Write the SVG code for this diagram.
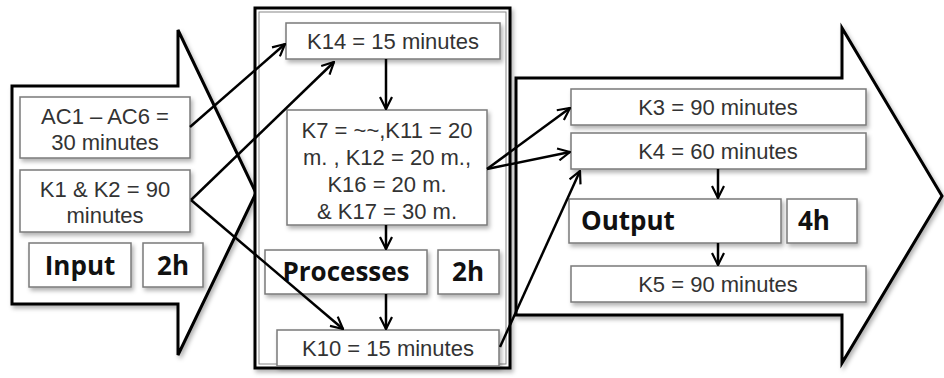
<svg xmlns="http://www.w3.org/2000/svg" width="944" height="378" viewBox="0 0 944 378">
<style>
.big{fill:#fff;stroke:#000;stroke-width:3;stroke-linejoin:miter}
.box{fill:#fff;stroke:#7a7a7a;stroke-width:1.5}
.t{font-family:"Liberation Sans",Arial,sans-serif;font-size:22px;fill:#333;text-anchor:middle}
.b{font-family:"Open Sans","Liberation Sans",sans-serif;font-size:26px;font-weight:bold;fill:#111;text-anchor:middle}
.c{fill:none;stroke:#000;stroke-width:2.5}
</style>
<defs>
<filter id="sh" x="-10%" y="-10%" width="130%" height="130%">
<feDropShadow dx="2" dy="3" stdDeviation="2" flood-color="#000" flood-opacity="0.3"/>
</filter>
<marker id="ar" viewBox="0 0 14 14" refX="13" refY="7" markerWidth="14" markerHeight="14" markerUnits="userSpaceOnUse" orient="auto">
<path d="M1,1 L13,7 L1,13" fill="none" stroke="#000" stroke-width="2.2"/>
</marker>
</defs>
<g id="input">
<polygon class="big" filter="url(#sh)" points="12,86 178,86 178,30 256,193 178,355 178,304 12,304"/>
</g>
<g id="output">
<polygon class="big" filter="url(#sh)" points="516,78 842,78 842,28 942,196 842,363 842,315 516,315"/>
</g>
<g id="processes">
<rect x="255" y="8" width="255" height="360" fill="#fff" stroke="#000" stroke-width="3" filter="url(#sh)"/>
<rect x="259" y="12" width="247" height="352" fill="none" stroke="#888" stroke-width="1"/>
</g>
<g id="ac1">
<rect class="box" filter="url(#sh)" x="20" y="97" width="170" height="61"/>
<text class="t" x="105" y="124">AC1 – AC6 =</text>
<text class="t" x="105" y="150">30 minutes</text>
</g>
<g id="k1k2">
<rect class="box" filter="url(#sh)" x="20" y="170" width="170" height="62"/>
<text class="t" x="105" y="197">K1 &amp; K2 = 90</text>
<text class="t" x="105" y="223">minutes</text>
</g>
<g id="input-label">
<rect class="box" filter="url(#sh)" x="29" y="243" width="102" height="44"/>
<text class="b" x="80" y="275">Input</text>
</g>
<g id="input-time">
<rect class="box" filter="url(#sh)" x="143" y="243" width="60" height="44"/>
<text class="b" x="173" y="275">2h</text>
</g>
<g id="k14">
<rect class="box" filter="url(#sh)" x="286" y="23" width="214" height="36"/>
<text class="t" x="393" y="49">K14 = 15 minutes</text>
</g>
<g id="k7">
<rect class="box" filter="url(#sh)" x="287" y="110" width="200" height="115"/>
<text class="t" x="387" y="138">K7 = ~~,K11 = 20</text>
<text class="t" x="387" y="165">m. , K12 = 20 m.,</text>
<text class="t" x="387" y="192">K16 = 20 m.</text>
<text class="t" x="387" y="219">&amp; K17 = 30 m.</text>
</g>
<g id="proc-label">
<rect class="box" filter="url(#sh)" x="265" y="250" width="162" height="44"/>
<text class="b" x="346" y="281">Processes</text>
</g>
<g id="proc-time">
<rect class="box" filter="url(#sh)" x="438" y="250" width="61" height="44"/>
<text class="b" x="468" y="281">2h</text>
</g>
<g id="k10">
<rect class="box" filter="url(#sh)" x="277" y="330" width="222" height="36"/>
<text class="t" x="388" y="356">K10 = 15 minutes</text>
</g>
<g id="k3">
<rect class="box" filter="url(#sh)" x="571" y="89" width="295" height="36"/>
<text class="t" x="718" y="115">K3 = 90 minutes</text>
</g>
<g id="k4">
<rect class="box" filter="url(#sh)" x="571" y="133" width="295" height="36"/>
<text class="t" x="718" y="159">K4 = 60 minutes</text>
</g>
<g id="out-label">
<rect class="box" filter="url(#sh)" x="569" y="199" width="212" height="44"/>
<text class="b" x="581" y="230" style="text-anchor:start">Output</text>
</g>
<g id="out-time">
<rect class="box" filter="url(#sh)" x="787" y="199" width="70" height="44"/>
<text class="b" x="798" y="230" style="text-anchor:start">4h</text>
</g>
<g id="k5">
<rect class="box" filter="url(#sh)" x="571" y="266" width="295" height="36"/>
<text class="t" x="718" y="292">K5 = 90 minutes</text>
</g>
<g id="connectors">
<line class="c" marker-end="url(#ar)" x1="190" y1="127" x2="285" y2="44"/>
<line class="c" marker-end="url(#ar)" x1="191" y1="200" x2="334" y2="62"/>
<line class="c" marker-end="url(#ar)" x1="191" y1="200" x2="343" y2="329"/>
<line class="c" marker-end="url(#ar)" x1="386" y1="59" x2="386" y2="109"/>
<line class="c" marker-end="url(#ar)" x1="386" y1="225" x2="386" y2="249"/>
<line class="c" marker-end="url(#ar)" x1="386" y1="294" x2="386" y2="329"/>
<line class="c" marker-end="url(#ar)" x1="487" y1="169" x2="570" y2="108"/>
<line class="c" marker-end="url(#ar)" x1="487" y1="169" x2="570" y2="152"/>
<line class="c" marker-end="url(#ar)" x1="500" y1="347" x2="580" y2="171"/>
<line class="c" marker-end="url(#ar)" x1="718" y1="169" x2="718" y2="198"/>
<line class="c" marker-end="url(#ar)" x1="718" y1="243" x2="718" y2="265"/>
</g>
</svg>
